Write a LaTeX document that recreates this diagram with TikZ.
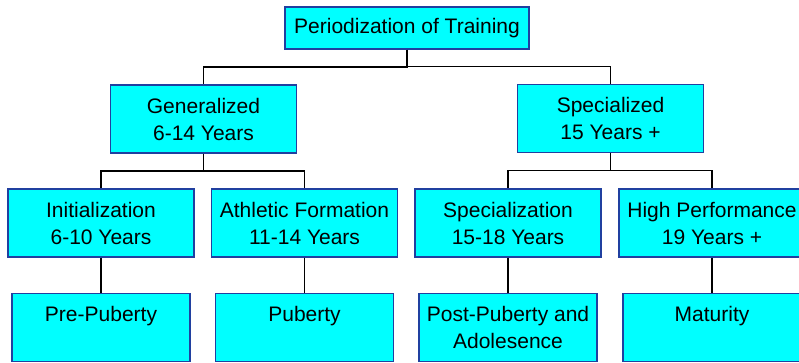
\documentclass[tikz,border=0pt]{standalone}
\usepackage{fontspec}
\setmainfont{Liberation Sans}
\usetikzlibrary{calc}
\definecolor{boxblue}{RGB}{32,64,160}
\definecolor{boxcyan}{RGB}{0,255,255}

\begin{document}
\begin{tikzpicture}[x=1pt,y=-1pt,
    box/.style={draw=boxblue,line width=1.2pt,fill=boxcyan,align=center,inner sep=0pt,
      minimum width=186pt,minimum height=68pt,font=\fontsize{21}{27}\selectfont},
    leaf/.style={box,minimum width=178pt},
    link/.style={draw=black,line width=1.3pt}]
			%%%%% START %%%%%
			\useasboundingbox (0,0) rectangle (799,362);
			
			\node[box,minimum width=244pt,minimum height=42pt] (top) at (407,28) {Periodization of Training};
			
			\node[box] (gen) at (203.5,119) {Generalized\\6-14 Years};
			\node[box] (spec) at (610.5,118.5) {Specialized\\15 Years +};
			
			\node[box] (init) at (101,223) {Initialization\\6-10 Years};
			\node[box] (athl) at (304.5,223) {Athletic Formation\\11-14 Years};
			\node[box] (specz) at (508,223) {Specialization\\15-18 Years};
			\node[box] (high) at (712,223) {High Performance\\19 Years +};
			
			\node[leaf] (pre) at (101,327.5) {Pre-Puberty\\~};
			\node[leaf] (pub) at (304.5,327.5) {Puberty\\~};
			\node[leaf] (post) at (508,327.5) {Post-Puberty and\\Adolesence};
			\node[leaf] (mat) at (712,327.5) {Maturity\\~};
			
			% elbow links
			\foreach \p/\c in {top/gen,top/spec,gen/init,gen/athl,spec/specz,spec/high}
				\draw[link] (\p.south) |- ($(\p.south)!0.5!(\c.north)$) -| (\c.north);
			
			% straight links
			\foreach \p/\c in {init/pre,athl/pub,specz/post,high/mat}
				\draw[link] (\p.south) -- (\c.north);
			%%%%% END %%%%%
\end{tikzpicture}
\end{document}
